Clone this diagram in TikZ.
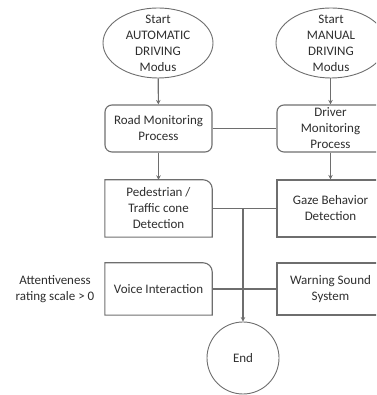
\documentclass[tikz,border=0pt]{standalone}
\usepackage{fontspec}
\setmainfont{Carlito}
\usetikzlibrary{shapes.geometric,arrows.meta}
\definecolor{ln}{HTML}{6E6E6E}
\definecolor{tx}{HTML}{2E2E2E}
\tikzset{
  base/.style={font=\fontsize{13}{16}\selectfont, text=tx, align=center},
  startell/.style={ellipse, draw=ln, line width=0.9pt, minimum width=110pt, minimum height=70pt, inner sep=0pt},
  rbox/.style={base, rectangle, rounded corners=7pt, draw=ln, line width=1.1pt, minimum width=107pt, minimum height=47pt, inner sep=0pt},
  sbox/.style={base, rectangle, draw=ln, line width=1.1pt, minimum width=107pt, inner sep=0pt},
  pbox/.style={base, rectangle, minimum width=107pt, inner sep=0pt},
  conn/.style={draw=ln, line width=1.1pt},
  arr/.style={conn, -{Stealth[length=4.5pt,width=4.5pt]}},
}
\begin{document}
\begin{tikzpicture}[x=1pt,y=1pt]
\useasboundingbox (0,0) rectangle (376,395);
\clip (0,0) rectangle (376,395);
% start ellipses
\node[startell] (s1) at (158,352) {};
\node[base] (s1t) at (s1.center) {Start\\AUTOMATIC\\DRIVING\\Modus};
\node[startell] (s2) at (331,352) {};
\node[base] (s2t) at (s2.center) {Start\\MANUAL\\DRIVING\\Modus};
% monitoring
\node[rbox] (road) at (158.5,266.5) {Road Monitoring\\Process};
\node[rbox] (drv) at (330.5,266.5) {Driver\\Monitoring\\Process};
% detection
\node[pbox, minimum height=57pt] (ped) at (158.5,186.5) {Pedestrian /\\Traffic cone\\Detection};
\draw[conn] (ped.south west) -- (ped.north west) -- ([xshift=-9pt]ped.north east) arc[start angle=90,end angle=0,radius=9pt] -- (ped.south east) -- cycle;
\node[sbox, minimum height=57pt] (gaze) at (330.5,186.5) {Gaze Behavior\\Detection};
% interaction
\node[pbox, minimum height=52pt] (voice) at (158.5,106) {Voice Interaction};
\draw[conn] (voice.south west) -- (voice.north west) -- ([xshift=-9pt]voice.north east) arc[start angle=90,end angle=0,radius=9pt] -- (voice.south east) -- cycle;
\node[sbox, minimum height=52pt] (warn) at (330.5,106) {Warning Sound\\System};
\node[base] (att) at (55,106) {Attentiveness\\rating scale > 0};
% end
\node[base, circle, draw=ln, line width=0.9pt, minimum size=72pt, inner sep=0pt] (end) at (243,37) {End};
% connectors
\draw[arr] (s1) -- (road);
\draw[arr] (s2.south -| drv.north) -- (drv.north);
\draw[conn] (road) -- (drv);
\draw[arr] (road) -- (ped);
\draw[arr] (drv) -- (gaze);
\draw[conn] (ped) -- (gaze);
\draw[conn] (voice) -- (warn);
\coordinate (j) at (ped.east -| end.north);
\draw[arr] (j) -- (end);
\end{tikzpicture}
\end{document}
